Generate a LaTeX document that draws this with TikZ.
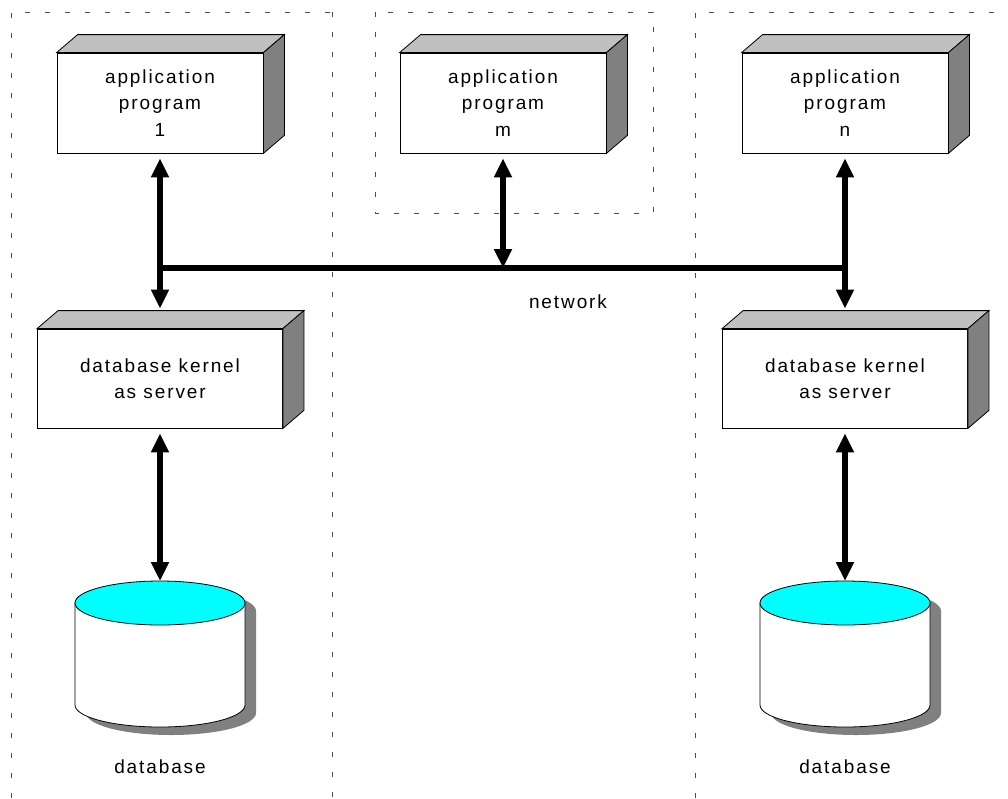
\documentclass[tikz,border=0pt]{standalone}
\usepackage{fontspec}
\newfontfamily\lbl[LetterSpace=10]{Liberation Sans}
\usetikzlibrary{arrows.meta}
\definecolor{topgray}{HTML}{C0C0C0}
\definecolor{sidegray}{HTML}{808080}
\definecolor{dbcyan}{HTML}{00FFFF}
\tikzset{
  every node/.style={font=\lbl\fontsize{19}{26.5}\selectfont, align=center},
  appbox/.style={draw, fill=white, line width=0.8pt, minimum width=206pt, minimum height=100pt},
  kernbox/.style={draw, fill=white, line width=0.8pt, minimum width=245pt, minimum height=99pt},
  topface/.style={draw, fill=topgray, line width=0.8pt},
  sideface/.style={draw, fill=sidegray, line width=0.8pt},
  region/.style={black!70, line width=1pt, dash pattern=on 5pt off 15pt},
  link/.style={line width=5.5pt, <->, >={Triangle[width=17pt,length=19pt]}},
}
\begin{document}
\begin{tikzpicture}[x=1pt, y=-1pt]
\useasboundingbox (0,0) rectangle (1008,798);

% regions
\draw [region] (11,798) -- (11,12) -- (333,12);
\draw [region] (332,12) -- (332,798);
\draw [region] (375,12) rectangle (653,213);
\draw [region] (695,798) -- (695,12) -- (1000,12);

% boxes
\node [appbox] (app1) at (160,103) {application\\program\\1};
\node [appbox] (appm) at (503,103) {application\\program\\m};
\node [appbox] (appn) at (845,103) {application\\program\\n};
\node [kernbox] (kern1) at (160,378.5) {database kernel\\as server};
\node [kernbox] (kern2) at (845,378.5) {database kernel\\as server};

\filldraw [topface] (app1.north west) -- ++(21,-18) -- ([shift={(21,-18)}]app1.north east) -- (app1.north east) -- cycle;
\filldraw [sideface] (app1.north east) -- ++(21,-18) -- ([shift={(21,-18)}]app1.south east) -- (app1.south east) -- cycle;
\filldraw [topface] (appm.north west) -- ++(21,-18) -- ([shift={(21,-18)}]appm.north east) -- (appm.north east) -- cycle;
\filldraw [sideface] (appm.north east) -- ++(21,-18) -- ([shift={(21,-18)}]appm.south east) -- (appm.south east) -- cycle;
\filldraw [topface] (appn.north west) -- ++(21,-18) -- ([shift={(21,-18)}]appn.north east) -- (appn.north east) -- cycle;
\filldraw [sideface] (appn.north east) -- ++(21,-18) -- ([shift={(21,-18)}]appn.south east) -- (appn.south east) -- cycle;
\filldraw [topface] (kern1.north west) -- ++(21,-18) -- ([shift={(21,-18)}]kern1.north east) -- (kern1.north east) -- cycle;
\filldraw [sideface] (kern1.north east) -- ++(21,-18) -- ([shift={(21,-18)}]kern1.south east) -- (kern1.south east) -- cycle;
\filldraw [topface] (kern2.north west) -- ++(21,-18) -- ([shift={(21,-18)}]kern2.north east) -- (kern2.north east) -- cycle;
\filldraw [sideface] (kern2.north east) -- ++(21,-18) -- ([shift={(21,-18)}]kern2.south east) -- (kern2.south east) -- cycle;

% databases
\fill [sidegray] (86,611) -- (86,713) arc [start angle=180, end angle=0, x radius=85, y radius=22] -- (256,611) arc [start angle=0, end angle=-180, x radius=85, y radius=22] -- cycle;
\filldraw [fill=white, line width=0.8pt] (75,603) -- (75,705) arc [start angle=180, end angle=0, x radius=85, y radius=22] -- (245,603) -- cycle;
\filldraw [fill=dbcyan, line width=0.8pt] (160,603) ellipse [x radius=85, y radius=22];
\fill [sidegray] (771,611) -- (771,713) arc [start angle=180, end angle=0, x radius=85, y radius=22] -- (941,611) arc [start angle=0, end angle=-180, x radius=85, y radius=22] -- cycle;
\filldraw [fill=white, line width=0.8pt] (760,603) -- (760,705) arc [start angle=180, end angle=0, x radius=85, y radius=22] -- (930,603) -- cycle;
\filldraw [fill=dbcyan, line width=0.8pt] (845,603) ellipse [x radius=85, y radius=22];
\coordinate (db1) at (160,581);
\coordinate (db2) at (845,581);

\node (db1label) at (160,767) {database};
\node (db2label) at (845,767) {database};

% network
\coordinate (bus1) at (160,268);
\coordinate (busm) at (503,268);
\coordinate (busn) at (845,268);
\draw [line width=5.5pt] (bus1) -- (busn);
\node (netlabel) at (568,302) {network};

\draw [link, shorten <=5pt, shorten >=20pt] (app1) -- (kern1); %app1-kern1
\draw [link, shorten <=5pt] (appm) -- (busm); %appm-bus
\draw [link, shorten <=5pt, shorten >=20pt] (appn) -- (kern2); %appn-kern2
\draw [link, shorten <=5pt] (kern1) -- (db1); %kern1-db1
\draw [link, shorten <=5pt] (kern2) -- (db2); %kern2-db2

\end{tikzpicture}
\end{document}
